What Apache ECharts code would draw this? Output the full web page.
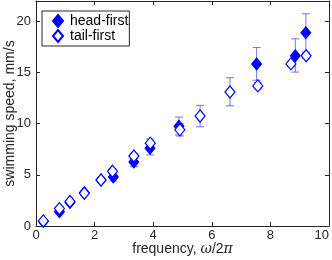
<!DOCTYPE html>
<html><head><meta charset="utf-8">
<script src="https://cdn.jsdelivr.net/npm/echarts@6/dist/echarts.min.js"></script>
<style>html,body{margin:0;padding:0;background:#fff}#c{width:332px;height:260px}</style>
</head><body><div id="c"></div>
<script>
const headX  = [0.25, 0.80, 1.16, 1.65, 2.22, 2.64, 3.34, 3.89, 4.88, 7.53, 8.85, 9.21];
const headY  = [0.45, 1.40, 2.30, 3.25, 4.50, 4.80, 6.25, 7.60, 9.75, 15.85, 16.65, 18.90];
const headLo = [0.35, 1.20, 2.10, 3.10, 4.30, 4.40, 5.80, 6.95, 8.90, 14.25, 15.05, 17.00];
const headHi = [0.55, 1.60, 2.50, 3.40, 4.70, 5.10, 6.60, 8.20, 10.65, 17.45, 18.30, 20.75];

const tailX  = [0.25, 0.80, 1.16, 1.65, 2.22, 2.61, 3.34, 3.90, 4.91, 5.60, 6.62, 7.57, 8.70, 9.22];
const tailY  = [0.50, 1.70, 2.40, 3.20, 4.50, 5.35, 6.85, 8.10, 9.40, 10.75, 13.10, 13.70, 15.85, 16.65];
const tailLo = [0.40, 1.50, 2.20, 3.00, 4.30, 5.10, 6.60, 7.70, 8.80, 9.70, 11.75, 13.40, 15.60, 16.40];
const tailHi = [0.60, 1.90, 2.60, 3.40, 4.70, 5.60, 7.10, 8.50, 10.00, 11.80, 14.50, 14.00, 16.10, 16.90];

const xTicks = [0, 2, 4, 6, 8, 10];
const yTicks = [0, 5, 10, 15, 20];
const seriesNames = ['head-first', 'tail-first'];

const blue = '#0000ff';
const errColor = 'rgba(70,70,255,0.75)';
const axisColor = '#262626';
const fontFam = '"Liberation Sans", Arial, sans-serif';

function errSeries(xs, lo, hi) {
  return {
    type: 'custom',
    silent: true,
    z: 1,
    data: xs.map((x, i) => [x, lo[i], hi[i]]),
    renderItem: function (params, api) {
      const a = api.coord([api.value(0), api.value(1)]);
      const b = api.coord([api.value(0), api.value(2)]);
      const w = 4;
      return {
        type: 'group',
        children: [
          { type: 'line', shape: { x1: a[0], y1: a[1], x2: b[0], y2: b[1] }, style: { stroke: errColor, lineWidth: 1 } },
          { type: 'line', shape: { x1: a[0] - w, y1: a[1], x2: a[0] + w, y2: a[1] }, style: { stroke: errColor, lineWidth: 1 } },
          { type: 'line', shape: { x1: b[0] - w, y1: b[1], x2: b[0] + w, y2: b[1] }, style: { stroke: errColor, lineWidth: 1 } }
        ]
      };
    }
  };
}

const xMin = xTicks[0], xMax = xTicks[xTicks.length - 1];
const axisCommon = {
  nameMoveOverlap: false,
  axisLine: { show: true, onZero: false, lineStyle: { color: axisColor, width: 1 } },
  axisTick: { show: true, inside: true, length: 4, lineStyle: { color: axisColor } },
  splitLine: { show: false }
};

const chart = echarts.init(document.getElementById('c'), null, { renderer: 'canvas' });
chart.setOption({
  animation: false,
  backgroundColor: '#fff',
  textStyle: { fontFamily: fontFam },
  grid: { left: 36, right: 3, top: 1, bottom: 34, containLabel: false, outerBoundsMode: 'none' },
  legend: {
    data: seriesNames,
    orient: 'vertical',
    left: 42, top: 11,
    padding: [3, 1, 3, 10],
    itemGap: 1,
    itemWidth: 10, itemHeight: 12,
    borderColor: axisColor, borderWidth: 1,
    backgroundColor: '#fff',
    textStyle: { fontSize: 14, lineHeight: 12, color: '#000', fontFamily: fontFam, padding: [0, 0, 0, 2] }
  },
  xAxis: [
    Object.assign({
      type: 'value', min: xMin, max: xMax, interval: 2, position: 'bottom',
      name: 'frequency, {i|ω}/2{i|π}', nameLocation: 'middle', nameGap: 16,
      nameTextStyle: { fontSize: 14, color: axisColor, fontFamily: fontFam, verticalAlign: 'top',
        rich: { i: { fontStyle: 'italic', fontSize: 14, color: axisColor, fontFamily: '"DejaVu Serif", serif' } } },
      axisLabel: { margin: 3, fontSize: 13, color: axisColor, fontFamily: fontFam, alignMaxLabel: 'right' }
    }, axisCommon),
    Object.assign({
      type: 'value', min: xMin, max: xMax, interval: 2, position: 'top',
      axisLabel: { show: false }
    }, axisCommon)
  ],
  yAxis: [
    Object.assign({
      type: 'value', min: 0, max: 22, interval: 5, position: 'left',
      name: 'swimming speed, mm/s', nameLocation: 'middle', nameGap: 19,
      nameTextStyle: { fontSize: 14, color: axisColor, fontFamily: fontFam },
      axisLabel: { margin: 5, fontSize: 13, color: axisColor, fontFamily: fontFam,
        formatter: v => (yTicks.indexOf(v) >= 0 ? String(v) : '') }
    }, axisCommon),
    Object.assign({
      type: 'value', min: 0, max: 22, interval: 5, position: 'right',
      axisLabel: { show: false }
    }, axisCommon)
  ],
  series: [
    errSeries(headX, headLo, headHi),
    errSeries(tailX, tailLo, tailHi),
    {
      name: seriesNames[0], type: 'scatter', z: 3,
      symbol: 'diamond', symbolSize: [10, 12],
      itemStyle: { color: blue, borderColor: blue, borderWidth: 1, opacity: 1 },
      data: headX.map((x, i) => [x, headY[i]])
    },
    {
      name: seriesNames[1], type: 'scatter', z: 4,
      symbol: 'diamond', symbolSize: [10, 12],
      itemStyle: { color: '#fff', borderColor: blue, borderWidth: 1.2, opacity: 1 },
      data: tailX.map((x, i) => [x, tailY[i]])
    }
  ]
});
</script></body></html>
